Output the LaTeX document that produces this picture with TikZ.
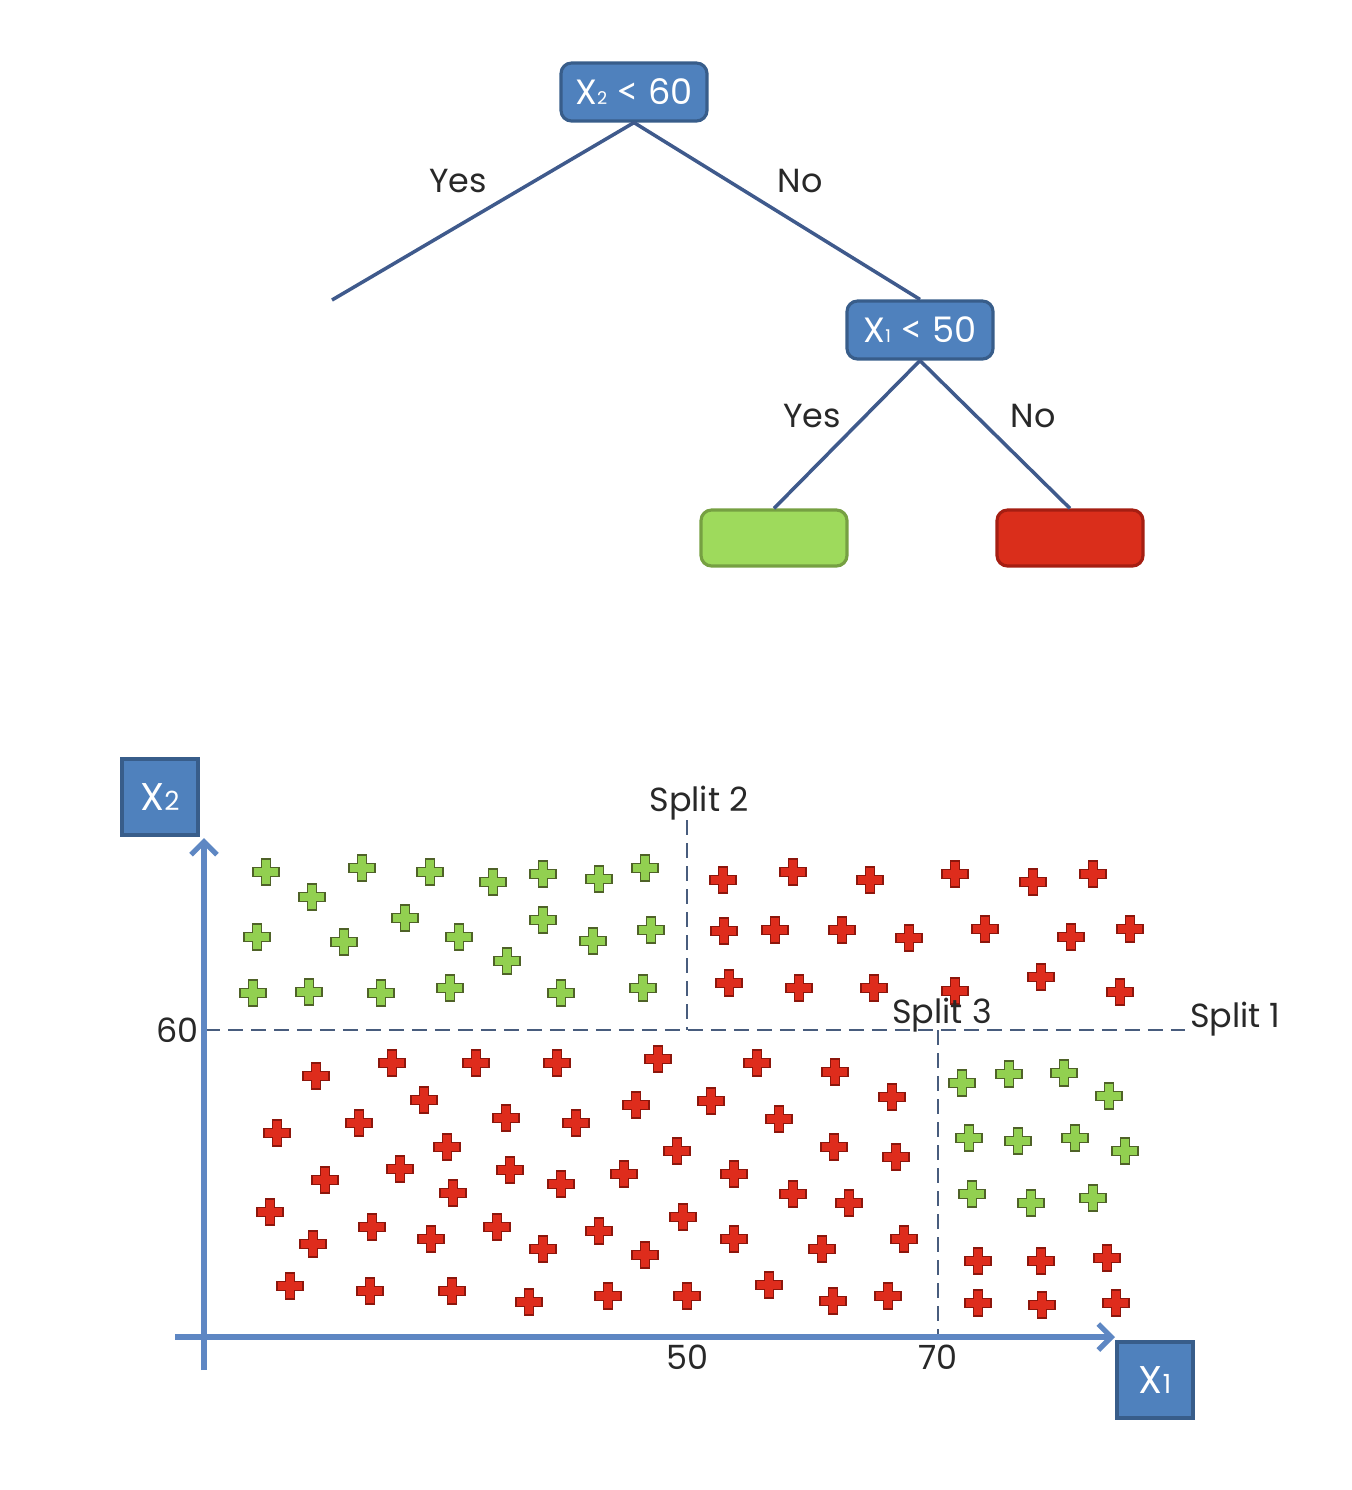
\documentclass[tikz,border=0pt]{standalone}
\usepackage{fontspec}
\setmainfont{Poppins}
\newfontfamily\ltfont{Lato}
\usetikzlibrary{arrows.meta}
\definecolor{boxBlue}{RGB}{79,129,189}
\definecolor{boxEdge}{RGB}{56,93,138}
\definecolor{lineBlue}{RGB}{63,90,140}
\definecolor{axisBlue}{RGB}{94,135,195}
\definecolor{leafGreen}{RGB}{158,218,92}
\definecolor{leafGreenEdge}{RGB}{118,160,66}
\definecolor{leafRed}{RGB}{218,46,27}
\definecolor{leafRedEdge}{RGB}{165,30,18}
\definecolor{plusGreen}{RGB}{146,208,80}
\definecolor{plusGreenEdge}{RGB}{79,98,40}
\definecolor{plusRed}{RGB}{222,44,28}
\definecolor{plusRedEdge}{RGB}{140,22,12}
\definecolor{splitInk}{RGB}{72,92,125}
\definecolor{labelInk}{RGB}{40,40,40}
\newcommand{\tsub}[1]{{\fontsize{5}{6}\selectfont #1}}
\newcommand{\asub}[1]{{\fontsize{7.5}{8}\selectfont #1}}
\newcommand{\lt}{{\ltfont\fontsize{11}{12}\selectfont <}}

\begin{document}
\begin{tikzpicture}[x=0.1mm,y=-0.1mm,
  tbox/.style={draw=boxEdge,line width=0.9pt,fill=boxBlue,rounded corners=3pt,
               minimum width=14.6mm,minimum height=5.8mm,inner sep=0pt,text=white,
               font=\fontsize{10}{12}\selectfont},
  leaf/.style={draw=#1Edge,line width=0.9pt,fill=#1,rounded corners=3pt,
               minimum width=14.6mm,minimum height=5.6mm,inner sep=0pt},
  axbox/.style={draw=boxEdge,line width=0.9pt,fill=boxBlue,minimum size=7.6mm,
               inner sep=0pt,text=white,font=\fontsize{11}{13}\selectfont},
  edge/.style={lineBlue,line width=1pt},
  lbl/.style={text=labelInk,font=\fontsize{9.5}{11}\selectfont,inner sep=1pt},
  axis/.style={axisBlue,line width=1.5pt,-{Straight Barb[length=1.3mm,width=2.6mm,line width=1.5pt]}},
  split/.style={splitInk,line width=0.75pt,dash pattern=on 1.5mm off 0.8mm},
  gplus/.style={fill=plusGreen,draw=plusGreenEdge,line width=0.55pt},
  rplus/.style={fill=plusRed,draw=plusRedEdge,line width=0.45pt},
  plusmark/.pic={\path[pic actions] (-4.5,-13) -- (4.5,-13) -- (4.5,-4.5) -- (13,-4.5)
     -- (13,4.5) -- (4.5,4.5) -- (4.5,13) -- (-4.5,13) -- (-4.5,4.5) -- (-13,4.5)
     -- (-13,-4.5) -- (-4.5,-4.5) -- cycle;}]
  \useasboundingbox (0,0) rectangle (1352,1490);

  % tree
  \node[tbox] (root) at (634,92) {X\tsub{2} \lt{} 60};
  \node[tbox] (split1) at (920,330) {X\tsub{1} \lt{} 50};
  \node[leaf=leafGreen] (gleaf) at (774,538) {};
  \node[leaf=leafRed] (rleaf) at (1070,538) {};
  \coordinate (lend) at (332,300);
  \draw[edge] (root.south) -- (lend);
  \draw[edge] (root.south) -- (split1.north);
  \draw[edge] (split1.south) -- (gleaf.north);
  \draw[edge] (split1.south) -- (rleaf.north);
  \node[lbl] (y1) at (458,181) {Yes};
  \node[lbl] (n1) at (800,181) {No};
  \node[lbl] (y2) at (812,416) {Yes};
  \node[lbl] (n2) at (1033,416) {No};

  % splits
  \draw[split] (205,1030) -- (1185,1030);
  \draw[split] (687,820) -- (687,1030);
  \draw[split] (938,1030) -- (938,1335);

  % points
  \foreach \x/\y in {266/872,312/897,362/868,430/872,493/882,543/874,599/879,645/868,
    257/937,344/942,405/918,459/937,507/961,543/920,593/941,651/930,
    253/993,309/992,381/993,450/988,561/993,643/988,
    962/1083,1009/1074,1064/1073,1109/1096,969/1138,1018/1141,1075/1138,1125/1151,
    972/1194,1031/1203,1093/1198}
    \pic[gplus] at (\x,\y) {plusmark};
  \foreach \x/\y in {723/880,793/872,870/880,955/874,1033/882,1093/874,
    724/931,775/930,842/930,909/938,985/929,1071/937,1130/929,
    729/983,799/988,874/988,955/991,1041/977,1120/992,
    316/1076,392/1063,476/1063,557/1063,658/1059,757/1063,835/1072,
    424/1100,636/1105,711/1101,892/1097,
    277/1133,359/1123,506/1118,576/1123,779/1119,
    447/1147,677/1151,834/1147,896/1157,
    325/1180,400/1169,510/1170,561/1184,624/1174,734/1174,
    453/1193,793/1194,849/1203,
    270/1212,372/1227,497/1227,599/1231,683/1217,734/1239,904/1239,
    313/1244,431/1239,543/1249,645/1255,822/1249,
    290/1286,370/1291,452/1291,529/1302,608/1296,687/1296,769/1285,833/1301,888/1296,
    978/1261,1041/1261,1107/1258,978/1303,1042/1305,1116/1303}
    \pic[rplus] at (\x,\y) {plusmark};

  % axes
  \coordinate (ybot) at (204,1370);
  \coordinate (ytop) at (204,838);
  \coordinate (xleft) at (175,1337);
  \coordinate (xright) at (1115,1337);
  \draw[axis] (ybot) -- (ytop);
  \draw[axis] (xleft) -- (xright);
  \node[axbox] (xtwo) at (160,797) {X\asub{2}};
  \node[axbox] (xone) at (1155,1380) {X\asub{1}};

  \node[lbl,anchor=east] (t60) at (203,1030) {60};
  \node[lbl] (t50) at (687,1357) {50};
  \node[lbl] (t70) at (938,1357) {70};
  \node[lbl] (s2) at (699,803) {Split 2};
  \node[lbl] (s3) at (942,1015) {Split 3};
  \node[lbl,anchor=west] (s1) at (1186,1019) {Split 1};
\end{tikzpicture}
\end{document}
